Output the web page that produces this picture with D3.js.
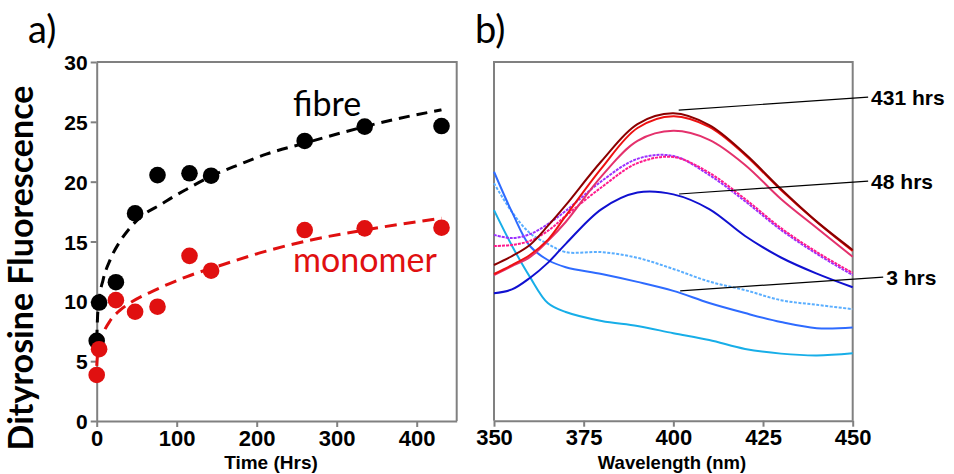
<!DOCTYPE html>
<html>
<head>
    <meta charset="utf-8">
    <title>Dityrosine Fluorescence</title>
    <script src="https://d3js.org/d3.v7.min.js"></script>
    <style>
        body { margin: 0; background: #fff; }
        .axis .tick text { font-family: "Liberation Sans", Arial, sans-serif; font-weight: bold; fill: #000; }
        .axis .tick line, .axis .domain { stroke: #808080; stroke-width: 2; }
        .frame { stroke: #808080; stroke-width: 2; fill: none; }
    </style>
</head>
<body>
<svg width="954" height="474"></svg>
<script>
    // ---- panel a: dityrosine fluorescence vs time ----
    const times = [0, 3, 24, 48, 76, 116, 143, 260, 335, 431];
    const fibre = [6.7, 9.9, 11.6, 17.35, 20.55, 20.7, 20.5, 23.4, 24.6, 24.65];
    const monomer = [3.85, 6.0, 10.1, 9.13, 9.55, 13.8, 12.56, 15.96, 16.1, 16.15];

    // fitted trend lines
    const fibreFitT = [0, 1, 3, 8, 17, 29, 40, 50, 62, 79, 96, 112, 146, 179, 212, 259, 296, 335, 379, 431];
    const fibreFitV = [6.7, 8.6, 10.1, 11.8, 13.5, 15.0, 16.0, 16.75, 17.4, 18.05, 18.75, 19.35, 20.55, 21.45, 22.3, 23.2, 23.9, 24.6, 25.3, 26.0];
    const monomerFitT = [0, 1, 3, 8, 17, 30, 45, 75, 112, 150, 212, 266, 334, 431];
    const monomerFitV = [4.6, 5.5, 6.3, 7.3, 8.4, 9.3, 10.0, 11.0, 12.05, 12.9, 14.2, 15.1, 15.95, 16.95];

    const timeTicks = [0, 100, 200, 300, 400];
    const fluorTicks = [0, 5, 10, 15, 20, 25, 30];

    // ---- panel b: emission spectra ----
    const wavelengths = [350, 355, 360, 365, 370, 380, 390, 400, 410, 420, 430, 440, 450];
    const spec431 = [43.4, 45.9, 49.0, 54.3, 60.1, 72.4, 82.7, 85.7, 82.4, 74.4, 64.6, 55.5, 47.6];
    const spec335 = [40.9, 43.4, 46.2, 50.4, 57.1, 70.4, 81.6, 84.9, 81.9, 74.1, 64.3, 55.4, 47.3];
    const spec260 = [40.6, 43.1, 45.6, 50.1, 55.4, 68.2, 78.0, 80.8, 78.3, 71.3, 61.8, 53.7, 45.7];
    const spec143 = [48.7, 49.0, 50.1, 52.9, 57.1, 65.1, 71.8, 73.5, 69.1, 61.8, 53.7, 47.0, 41.2];
    const spec116 = [51.8, 50.9, 52.0, 54.8, 58.5, 66.8, 73.0, 73.8, 68.5, 61.2, 53.2, 46.5, 40.6];
    const spec48 = [35.5, 36.6, 39.8, 44.0, 49.3, 59.0, 63.6, 63.1, 59.0, 51.5, 45.5, 41.0, 37.2];
    const spec24 = [66.2, 58.2, 52.3, 49.3, 47.0, 47.0, 45.4, 42.3, 38.8, 36.4, 33.6, 32.3, 31.1];
    const spec3 = [69.4, 58.2, 48.7, 44.8, 42.8, 40.9, 38.7, 36.2, 32.8, 30.0, 27.5, 25.8, 26.0];
    const spec0 = [58.7, 48.8, 40.1, 32.8, 30.3, 27.8, 26.4, 24.4, 22.5, 20.0, 18.7, 18.2, 18.8];
    const waveTicks = [350, 375, 400, 425, 450];

    // annotation labels and the spot they point at (wavelength, intensity)
    const annoLabels = ["431 hrs", "48 hrs", "3 hrs"];
    const annoFrom = [[401.5, 86.6], [401.6, 63.2], [401.9, 36.2]];
    const annoTo = [[454.3, 90.2], [454.3, 66.8], [458.5, 40.0]];

    const svg = d3.select("svg");

    // ================= panel a =================
    const xA = d3.scaleLinear().domain([0, 450]).range([96.7, 456.7]);
    const yA = d3.scaleLinear().domain([0, 30]).range([421, 62]);

    const gA = svg.append("g");

    gA.append("g")
        .attr("class", "axis")
        .attr("transform", `translate(0,${yA(0)})`)
        .call(d3.axisBottom(xA).tickValues(timeTicks).tickSize(6).tickSizeOuter(0).tickPadding(3))
        .selectAll("text").style("font-size", "22px");

    gA.append("g")
        .attr("class", "axis")
        .attr("transform", `translate(${xA(0)},0)`)
        .call(d3.axisLeft(yA).tickValues(fluorTicks).tickSize(6).tickSizeOuter(0).tickPadding(3))
        .selectAll("text").style("font-size", "21px").attr("dy", "0.36em");

    // top and right frame
    gA.append("path")
        .attr("class", "frame")
        .attr("d", `M${xA(0)},${yA(30)}H${xA(450)}V${yA(0)}`);

    const fitLine = d3.line().x(d => xA(d[0])).y(d => yA(d[1])).curve(d3.curveMonotoneX);

    gA.append("path")
        .attr("d", fitLine(d3.zip(fibreFitT, fibreFitV)))
        .attr("fill", "none")
        .attr("stroke", "#000")
        .attr("stroke-width", 3)
        .attr("stroke-dasharray", "11,7");

    gA.append("path")
        .attr("d", fitLine(d3.zip(monomerFitT, monomerFitV)))
        .attr("fill", "none")
        .attr("stroke", "#e01010")
        .attr("stroke-width", 3)
        .attr("stroke-dasharray", "12,7");

    gA.selectAll(".fib")
        .data(d3.zip(times, fibre))
        .join("circle")
        .attr("class", "fib")
        .attr("cx", d => xA(d[0]))
        .attr("cy", d => yA(d[1]))
        .attr("r", 8.3)
        .attr("fill", "#000");

    gA.selectAll(".mono")
        .data(d3.zip(times, monomer))
        .join("circle")
        .attr("class", "mono")
        .attr("cx", d => xA(d[0]))
        .attr("cy", d => yA(d[1]))
        .attr("r", 8.3)
        .attr("fill", "#e01010");

    gA.append("text")
        .attr("x", 293).attr("y", 116)
        .style("font-family", "Lato, sans-serif").style("font-size", "34px")
        .text("fibre");

    gA.append("text")
        .attr("x", 293).attr("y", 272)
        .style("font-family", "Lato, sans-serif").style("font-size", "34px")
        .attr("fill", "#e01010")
        .text("monomer");

    gA.append("text")
        .attr("transform", "translate(33,268) rotate(-90)")
        .attr("text-anchor", "middle")
        .style("font-family", "Lato, sans-serif").style("font-size", "34px").style("font-weight", "bold")
        .text("Dityrosine Fluorescence");

    gA.append("text")
        .attr("x", 271).attr("y", 469)
        .attr("text-anchor", "middle")
        .style("font-family", "'Liberation Sans', Arial, sans-serif").style("font-size", "19px").style("font-weight", "bold")
        .text("Time (Hrs)");

    gA.append("text")
        .attr("x", 28).attr("y", 43)
        .style("font-family", "Lato, sans-serif").style("font-size", "38px")
        .text("a)");

    // ================= panel b =================
    const xB = d3.scaleLinear().domain([350, 450]).range([494, 852.7]);
    const yB = d3.scaleLinear().domain([0, 100]).range([420.7, 62]);

    const gB = svg.append("g");

    gB.append("g")
        .attr("class", "axis")
        .attr("transform", `translate(0,${yB(0)})`)
        .call(d3.axisBottom(xB).tickValues(waveTicks).tickSize(6).tickSizeOuter(0).tickPadding(3))
        .selectAll("text").style("font-size", "22px");

    gB.append("path")
        .attr("class", "frame")
        .attr("d", `M${xB(350)},${yB(0)}V${yB(100)}H${xB(450)}V${yB(0)}`);

    const spectra = [
        { values: spec0, color: "#17aee8", dash: null },
        { values: spec24, color: "#5aaeff", dash: "3,1.5" },
        { values: spec3, color: "#2e6bff", dash: null },
        { values: spec48, color: "#1010d0", dash: null },
        { values: spec116, color: "#9b30ff", dash: "3,1" },
        { values: spec143, color: "#ff1a8c", dash: "3,1" },
        { values: spec260, color: "#e4316c", dash: null },
        { values: spec335, color: "#ee1111", dash: null },
        { values: spec431, color: "#8b0000", dash: null }
    ];

    const specLine = d3.line().x(d => xB(d[0])).y(d => yB(d[1])).curve(d3.curveCatmullRom);

    gB.selectAll(".spec")
        .data(spectra)
        .join("path")
        .attr("class", "spec")
        .attr("d", d => specLine(d3.zip(wavelengths, d.values)))
        .attr("fill", "none")
        .attr("stroke", d => d.color)
        .attr("stroke-width", 2)
        .attr("stroke-dasharray", d => d.dash);

    annoLabels.forEach((label, i) => {
        gB.append("line")
            .attr("x1", xB(annoFrom[i][0])).attr("y1", yB(annoFrom[i][1]))
            .attr("x2", xB(annoTo[i][0])).attr("y2", yB(annoTo[i][1]))
            .attr("stroke", "#000").attr("stroke-width", 1.2);
        gB.append("text")
            .attr("x", xB(annoTo[i][0]) + 3).attr("y", yB(annoTo[i][1]))
            .attr("dy", "0.36em")
            .style("font-family", "'Liberation Sans', Arial, sans-serif").style("font-size", "21px").style("font-weight", "bold")
            .text(label);
    });

    gB.append("text")
        .attr("x", 672).attr("y", 469)
        .attr("text-anchor", "middle")
        .style("font-family", "'Liberation Sans', Arial, sans-serif").style("font-size", "18.5px").style("font-weight", "bold")
        .text("Wavelength (nm)");

    gB.append("text")
        .attr("x", 475).attr("y", 43)
        .style("font-family", "Lato, sans-serif").style("font-size", "38px")
        .text("b)");
</script>
</body>
</html>
